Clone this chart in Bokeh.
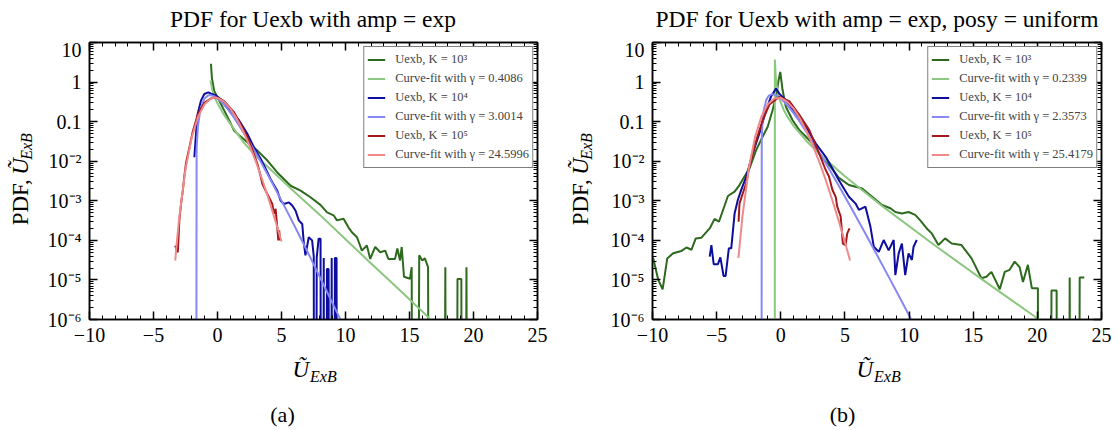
import math
from bokeh.plotting import figure
from bokeh.models import (FixedTicker, LinearAxis, LogAxis, CustomJSTickFormatter,
                          Label, Legend, LegendItem, Range1d)
from bokeh.layouts import row, column
from bokeh.embed import file_html
from bokeh.resources import INLINE
from bokeh.core.properties import value

# ------------------------------------------------------------------
# Panel (a): amp = exp
# ------------------------------------------------------------------
a_k3_x = [-0.51, -0.44, -0.26, 0.0, 0.4, 0.79, 1.3, 1.69, 2.34, 3.12, 3.9, 4.67, 5.2, 5.71,
          6.49, 7.26, 8.04, 8.56, 9.07, 9.33, 9.85, 10.24, 10.5, 10.9, 11.28, 11.67, 11.93,
          12.32, 12.71, 13.1, 13.35, 13.87, 14.05, 14.26, 14.39, 14.57, 15.04, 15.17, 15.4,
          15.76, 16.0, 16.2, 16.45, 16.7, 17.5, 17.8, 18.05, 18.5, 18.75, 19.05, 19.2, 19.45, 19.7]
a_k3_y = [2.9, 1.3, 0.6, 0.41, 0.23, 0.13, 0.059, 0.045, 0.030, 0.0185, 0.0104, 0.0052, 0.0035,
          0.0024, 0.0018, 0.00123, 7.9e-4, 5.1e-4, 4.3e-4, 3.2e-4, 3.5e-4, 2.1e-4, 1.6e-4, 1.2e-4,
          5.5e-5, 7.4e-5, 3.4e-5, 6.8e-5, 5.0e-5, 5.5e-5, 3.4e-5, 3.4e-5, 6.2e-5, 3.1e-5, 6.8e-5,
          1.2e-5, 1.07e-5, 2.1e-5, 0, 4.2e-5, 3.1e-5, 3.5e-5, 2.1e-5, 0, 0, 2.1e-5, 0, 0,
          1.05e-5, 1.05e-5, 0, 2.1e-5, 0]

a_fit3_x = [-0.55, -0.4, -0.2, 0.0, 0.5, 1.0, 2.0, 3.0, 4.0, 6.0, 8.0, 10.0, 12.0, 14.0, 16.0, 17.2]
a_fit3_y = [1.1, 0.62, 0.40, 0.29, 0.15, 0.088, 0.031, 0.0135, 0.0068, 0.0017, 4.4e-4, 1.07e-4,
            2.6e-5, 6.5e-6, 1.6e-6, 6.8e-7]

a_k4_x = [-1.81, -1.68, -1.55, -1.29, -1.03, -0.72, -0.51, -0.12, 0.4, 1.04, 1.69, 2.34, 2.85,
          3.37, 3.76, 4.15, 4.67, 4.93, 5.19, 5.58, 5.84, 6.1, 6.35, 6.62, 6.74, 6.87, 7.13, 7.39,
          7.52, 7.62, 7.75, 7.9, 8.05, 8.17, 8.3, 8.42, 8.55, 8.68, 8.8, 8.92, 9.05, 9.17, 9.3, 9.42]
a_k4_y = [0.0126, 0.049, 0.155, 0.34, 0.50, 0.55, 0.51, 0.46, 0.34, 0.19, 0.107, 0.049, 0.0224,
          0.0115, 0.0065, 0.0035, 0.0018, 0.0010, 8.3e-4, 9.1e-4, 7.6e-4, 5.6e-4, 3.2e-4, 2.6e-4,
          8.9e-5, 4.2e-5, 1.2e-4, 1.0e-4, 4.0e-5, 0, 3.6e-5, 1.1e-4, 1.1e-4, 0, 3.6e-5, 0,
          1.9e-5, 1.9e-5, 0, 3.6e-5, 0, 3.6e-5, 3.6e-5, 0]

a_fit4_x = [-1.732, -1.632, -1.532, -1.332, -1.032, -0.732, -0.577, -0.232, 0.268, 0.768, 1.268,
            2.268, 3.268, 4.268, 5.268, 6.268, 7.268, 8.268, 9.268, 9.768]
a_fit4_y = [0, 0.0219, 0.0735, 0.208, 0.379, 0.46, 0.469, 0.435, 0.325, 0.214, 0.1295, 0.0407,
            0.0113, 0.00286, 6.9e-4, 1.6e-4, 3.6e-5, 7.8e-6, 1.67e-6, 7.7e-7]

a_k5_x = [-3.31, -3.1, -2.98, -2.85, -2.71, -2.59, -2.46, -2.2, -1.94, -1.55, -1.03, -0.5, -0.1,
          0.52, 1.3, 1.82, 2.34, 2.73, 3.12, 3.37, 3.5, 3.76, 4.02, 4.28, 4.41, 4.54, 4.67, 4.75,
          4.82, 4.88]
a_k5_y = [7.4e-5, 5.0e-5, 3.2e-4, 8.3e-4, 0.0018, 0.0042, 0.009, 0.022, 0.055, 0.15, 0.30, 0.39,
          0.41, 0.33, 0.17, 0.085, 0.040, 0.019, 0.0085, 0.0042, 0.0027, 0.0018, 0.00123, 8.3e-4,
          4.7e-4, 6.3e-4, 2.1e-4, 1.0e-4, 1.8e-4, 1.0e-4]

a_fit5_x = [-3.3, -3.2, -3.0, -2.5, -2.0, -1.5, -1.0, -0.5, -0.2, 0.0, 0.5, 1.0, 1.5, 2.0, 2.5,
            3.0, 3.5, 4.0, 4.5, 5.0]
a_fit5_y = [3.1e-5, 7.5e-5, 3.5e-4, 0.0063, 0.0414, 0.138, 0.279, 0.386, 0.406, 0.398, 0.321,
            0.213, 0.119, 0.058, 0.025, 0.0097, 0.0034, 0.0011, 3.3e-4, 9.4e-5]

# ------------------------------------------------------------------
# Panel (b): amp = exp, posy = uniform
# ------------------------------------------------------------------
b_k3_x = [-10.2, -9.94, -9.55, -9.21, -8.85, -8.39, -7.74, -7.35, -6.96, -6.63, -6.19, -5.54,
          -5.16, -4.82, -4.12, -3.6, -3.22, -2.83, -2.44, -1.92, -1.41, -1.02, -0.64, -0.33,
          -0.17, -0.04, 0.14, 0.4, 0.91, 1.43, 1.95, 2.47, 2.98, 3.5, 4.02, 4.53, 5.31, 6.34,
          7.12, 7.89, 8.54, 8.93, 9.44, 9.96, 10.48, 10.87, 11.38, 11.77, 12.29, 12.81, 13.32,
          14.09, 14.87, 15.64, 16.03, 16.42, 17.07, 17.46, 17.84, 18.23, 18.62, 18.88, 19.26,
          19.57, 20.04, 20.3, 20.9, 21.1, 21.5, 21.7, 22.3, 22.52, 22.7, 23.1, 23.3, 23.66]
b_k3_y = [4.0e-5, 3.5e-5, 1.0e-5, 5.8e-6, 3.5e-5, 4.7e-5, 5.4e-5, 6.6e-5, 5.8e-5, 1.12e-4,
          1.17e-4, 2.0e-4, 3.5e-4, 2.95e-4, 1.32e-3, 1.7e-3, 2.5e-3, 4.1e-3, 6.6e-3, 0.019,
          0.042, 0.074, 0.195, 0.51, 1.12, 1.8, 0.63, 0.234, 0.11, 0.062, 0.042, 0.028, 0.0158,
          0.010, 0.0063, 0.0038, 0.0025, 0.00204, 0.00126, 7.8e-4, 6.5e-4, 5.2e-4, 4.8e-4,
          5.2e-4, 4.4e-4, 3.2e-4, 2.0e-4, 1.5e-4, 7.6e-5, 1.12e-4, 8.3e-5, 7.6e-5, 3.5e-5,
          1.1e-5, 1.2e-5, 1.6e-5, 5.8e-6, 1.6e-5, 1.8e-5, 2.9e-5, 2.1e-5, 8.9e-6, 2.4e-5,
          6.2e-6, 6.2e-6, 0, 0, 5.4e-6, 5.4e-6, 0, 0, 1.15e-5, 0, 0, 1.15e-5, 1.15e-5]

b_fit3_x = [-0.484, -0.46, -0.384, -0.284, -0.084, 0.216, 0.516, 1.016, 2.016, 3.016, 5.016,
            8.016, 12.016, 16.016, 20.016, 20.5]
b_fit3_y = [0, 3.7, 1.20, 0.674, 0.36, 0.203, 0.1335, 0.0768, 0.032, 0.0153, 0.0041, 6.9e-4,
            7.4e-5, 8.7e-6, 1.06e-6, 8.5e-7]

b_k4_x = [-5.54, -5.41, -5.23, -4.9, -4.71, -4.46, -4.30, -4.05, -3.86, -3.60, -3.35, -3.09,
          -2.70, -2.19, -1.67, -1.15, -0.76, -0.37, -0.12, 0.40, 1.18, 1.95, 2.73, 3.5, 4.02,
          4.53, 5.31, 5.83, 6.09, 6.6, 6.99, 7.25, 7.64, 8.02, 8.41, 8.80, 8.93, 9.19, 9.44,
          9.70, 9.96, 10.22, 10.35, 10.6]
b_k4_y = [3.9e-5, 7.6e-5, 2.5e-5, 2.5e-5, 3.7e-5, 1.26e-5, 1.26e-5, 6.3e-5, 6.3e-5, 4.8e-4,
          1.05e-3, 1.86e-3, 4.0e-3, 0.0158, 0.050, 0.195, 0.43, 0.69, 0.51, 0.35, 0.162, 0.074,
          0.028, 0.0129, 0.0066, 0.0033, 0.00126, 8.5e-4, 5.9e-4, 7.1e-4, 2.2e-4, 6.9e-5, 5.1e-5,
          1.02e-4, 5.6e-5, 1.02e-4, 1.32e-5, 4.7e-5, 8.3e-5, 1.32e-5, 4.7e-5, 3.2e-5, 6.9e-5,
          1.02e-4]

b_fit4_x = [-1.535, -1.485, -1.435, -1.335, -1.135, -0.935, -0.651, -0.335, 0.065, 0.465, 0.965,
            1.465, 2.465, 3.465, 4.465, 5.465, 6.465, 7.465, 8.465, 9.465, 10.465]
b_fit4_y = [0, 0.036, 0.0856, 0.188, 0.3545, 0.4525, 0.495, 0.461, 0.369, 0.270, 0.1697, 0.1009,
            0.0321, 0.00935, 0.00258, 6.85e-4, 1.77e-4, 4.47e-5, 1.11e-5, 2.73e-6, 6.6e-7]

b_k5_x = [-3.29, -3.22, -2.96, -2.70, -2.57, -2.44, -1.92, -1.41, -0.89, -0.12, 0.66, 1.43, 2.21,
          2.98, 3.5, 3.76, 4.02, 4.28, 4.4, 4.67, 4.84, 5.05, 5.18, 5.36]
b_k5_y = [2.95e-4, 8.5e-4, 1.55e-3, 2.75e-3, 4.5e-3, 7.5e-3, 0.033, 0.11, 0.27, 0.42, 0.33, 0.15,
          0.062, 0.016, 0.006, 0.0041, 0.0019, 0.00126, 7.1e-4, 4.0e-4, 8.3e-5, 7.6e-5, 1.5e-4,
          2.0e-4]

b_fit5_x = [-3.3, -3.0, -2.5, -2.0, -1.5, -1.0, -0.5, 0.0, 0.5, 1.0, 1.5, 2.0, 2.5, 3.0, 3.5,
            4.0, 4.5, 5.0, 5.4]
b_fit5_y = [3.6e-5, 3.8e-4, 0.00645, 0.0416, 0.138, 0.278, 0.385, 0.397, 0.321, 0.213, 0.119,
            0.058, 0.0249, 0.0096, 0.00336, 0.00108, 3.24e-4, 9.1e-5, 3.1e-5]

# ------------------------------------------------------------------
# Ticks, labels, titles
# ------------------------------------------------------------------
x_min, x_max = -10, 25
y_min, y_max = 1e-6, 10
x_major_ticks = [-10, -5, 0, 5, 10, 15, 20, 25]
x_minor_ticks = list(range(-10, 26))
y_major_ticks = [1e-6, 1e-5, 1e-4, 1e-3, 1e-2, 0.1, 1, 10]
y_minor_ticks = [k * 10.0 ** e for e in range(-6, 1) for k in range(2, 10)]

legend_a = ["Uexb, K = 10³", "Curve-fit with γ = 0.4086", "Uexb, K = 10⁴",
            "Curve-fit with γ = 3.0014", "Uexb, K = 10⁵", "Curve-fit with γ = 24.5996"]
legend_b = ["Uexb, K = 10³", "Curve-fit with γ = 0.2339", "Uexb, K = 10⁴",
            "Curve-fit with γ = 2.3573", "Uexb, K = 10⁵", "Curve-fit with γ = 25.4179"]
title_a = "PDF for Uexb with amp = exp"
title_b = "PDF for Uexb with amp = exp, posy = uniform"

COLORS = ["#2d6a1e", "#8bc77e", "#0d0d9e", "#8787f5", "#a3191b", "#f08a8a"]

SERIF = "Liberation Serif"
FRAME_W, FRAME_H = 449, 277
TOP_H = 38          # strip holding the title
MAIN_H = 314        # figure holding the frame + tick labels
BOT_H = 430 - TOP_H - MAIN_H   # strip holding x label and caption
MAIN_TOP = 4        # frame top inside the main figure (page y = 42)
STRIP_W = 44

Y_CODE = """
const e = Math.round(Math.log10(tick));
if (e === 1) return "10";
if (e === 0) return "1";
if (e === -1) return "0.1";
const sup = {"0":"\u2070","1":"\u00b9","2":"\u00b2","3":"\u00b3","4":"\u2074","5":"\u2075",
             "6":"\u2076","7":"\u2077","8":"\u2078","9":"\u2079","-":"\u207b"};
return "10" + String(e).split("").map(c => sup[c]).join("");
"""
X_CODE = "return tick < 0 ? '\u2212' + Math.abs(tick) : String(tick);"


def style_axis(ax, labels):
    ax.major_tick_in = 8
    ax.major_tick_out = 0
    ax.minor_tick_in = 4
    ax.minor_tick_out = 0
    ax.major_tick_line_width = 1.5
    ax.minor_tick_line_width = 1
    ax.axis_line_width = 1.5
    ax.axis_line_color = "black"
    ax.major_tick_line_color = "black"
    ax.minor_tick_line_color = "black"
    if labels:
        ax.major_label_text_font = SERIF
        ax.major_label_text_font_size = "20px"
        ax.major_label_text_color = "black"
    else:
        ax.major_label_text_font_size = "0px"
        ax.major_label_text_color = None
        ax.major_label_standoff = 0


def text_strip(width, height):
    """A blank figure whose data coordinates are its own pixels (y downwards)."""
    s = figure(width=width, height=height, output_backend="svg", toolbar_location=None,
               x_range=Range1d(0, width), y_range=Range1d(height, 0),
               x_axis_location=None, y_axis_location=None, min_border=0)
    s.outline_line_color = None
    s.background_fill_color = "white"
    s.border_fill_color = "white"
    for g in s.grid:
        g.visible = False
    return s


def put(s, x, y, text, size, **kw):
    s.add_layout(Label(x=x, y=y, text=text, text_font=SERIF, text_font_size=size,
                       text_color="black", text_baseline="middle", **kw))


def build_main(width, left, series, legend_labels):
    right = width - left - FRAME_W
    p = figure(width=width, height=MAIN_H, output_backend="svg", toolbar_location=None,
               x_range=Range1d(x_min, x_max), y_range=Range1d(y_min, y_max),
               y_axis_type="log",
               min_border_left=left, min_border_right=right, min_border_top=MAIN_TOP,
               min_border_bottom=MAIN_H - MAIN_TOP - FRAME_H)
    p.xgrid.visible = False
    p.ygrid.visible = False
    p.outline_line_color = "black"
    p.outline_line_width = 1.5
    p.background_fill_color = "white"
    p.border_fill_color = "white"

    xa = p.xaxis[0]
    xa.ticker = FixedTicker(ticks=x_major_ticks, minor_ticks=x_minor_ticks)
    xa.formatter = CustomJSTickFormatter(code=X_CODE)
    style_axis(xa, True)
    xa.major_label_standoff = 8

    ya = p.yaxis[0]
    ya.ticker = FixedTicker(ticks=y_major_ticks, minor_ticks=y_minor_ticks)
    ya.formatter = CustomJSTickFormatter(code=Y_CODE)
    style_axis(ya, True)
    ya.major_label_standoff = 8

    top_ax = LinearAxis(ticker=FixedTicker(ticks=x_major_ticks, minor_ticks=x_minor_ticks))
    style_axis(top_ax, False)
    p.add_layout(top_ax, "above")
    right_ax = LogAxis(ticker=FixedTicker(ticks=y_major_ticks, minor_ticks=y_minor_ticks))
    style_axis(right_ax, False)
    p.add_layout(right_ax, "right")

    renderers = []
    for (xs, ys), color in zip(series, COLORS):
        shown = [v if v > 0 else 1e-30 for v in ys]   # empty bins drop below the axis
        renderers.append(p.line(x=xs, y=shown, line_color=color, line_width=2))

    legend = Legend(items=[LegendItem(label=value(t), renderers=[r])
                           for t, r in zip(legend_labels, renderers)],
                    location="top_right", margin=4, padding=3, spacing=0,
                    glyph_width=18, glyph_height=19, label_height=19, label_standoff=10,
                    label_text_font=SERIF, label_text_font_size="12.5px",
                    border_line_color="black", border_line_width=1.2,
                    background_fill_color="white", background_fill_alpha=1.0)
    p.add_layout(legend)
    return p


def build_panel(width, frame_left, ylab_x, series, legend_labels, title, caption, caption_x):
    """frame_left, ylab_x and caption_x are measured from the panel's left edge."""
    main_w = width - STRIP_W
    main = build_main(main_w, frame_left - STRIP_W, series, legend_labels)
    center = frame_left + FRAME_W / 2

    top = text_strip(width, TOP_H)
    put(top, center, 18, title, "23.5px", text_align="center")

    strip = text_strip(STRIP_W, MAIN_H)
    u0 = 188 - TOP_H              # where the U~ starts (text reads upwards)
    put(strip, ylab_x, u0 + 5, "PDF,", "23px", text_align="right", angle=math.pi / 2)
    put(strip, ylab_x, u0, "Ũ", "23px", text_align="left", angle=math.pi / 2,
        text_font_style="italic")
    put(strip, ylab_x + 6, u0 - 17, "ExB", "16px", text_align="left", angle=math.pi / 2,
        text_font_style="italic")

    bot = text_strip(width, BOT_H)
    off = TOP_H + MAIN_H
    j = center - 4
    put(bot, j, 369 - off, "Ũ", "23px", text_align="right", text_font_style="italic")
    put(bot, j + 1, 376 - off, "ExB", "16px", text_align="left", text_font_style="italic")
    put(bot, caption_x, 414 - off, caption, "22px", text_align="center")

    return column(top, row(strip, main), bot)


series_a = [(a_k3_x, a_k3_y), (a_fit3_x, a_fit3_y), (a_k4_x, a_k4_y), (a_fit4_x, a_fit4_y),
            (a_k5_x, a_k5_y), (a_fit5_x, a_fit5_y)]
series_b = [(b_k3_x, b_k3_y), (b_fit3_x, b_fit3_y), (b_k4_x, b_k4_y), (b_fit4_x, b_fit4_y),
            (b_k5_x, b_k5_y), (b_fit5_x, b_fit5_y)]

W1, W2 = 559, 560
panel_a = build_panel(W1, 88, 20, series_a, legend_a, title_a, "(a)", 282)
panel_b = build_panel(W2, 652 - W1, 580 - W1, series_b, legend_b, title_b, "(b)", 842 - W1)

layout = row(panel_a, panel_b)
with open("out.html", "w", encoding="utf-8") as f:
    f.write(file_html(layout, INLINE, title="PDF for Uexb"))
